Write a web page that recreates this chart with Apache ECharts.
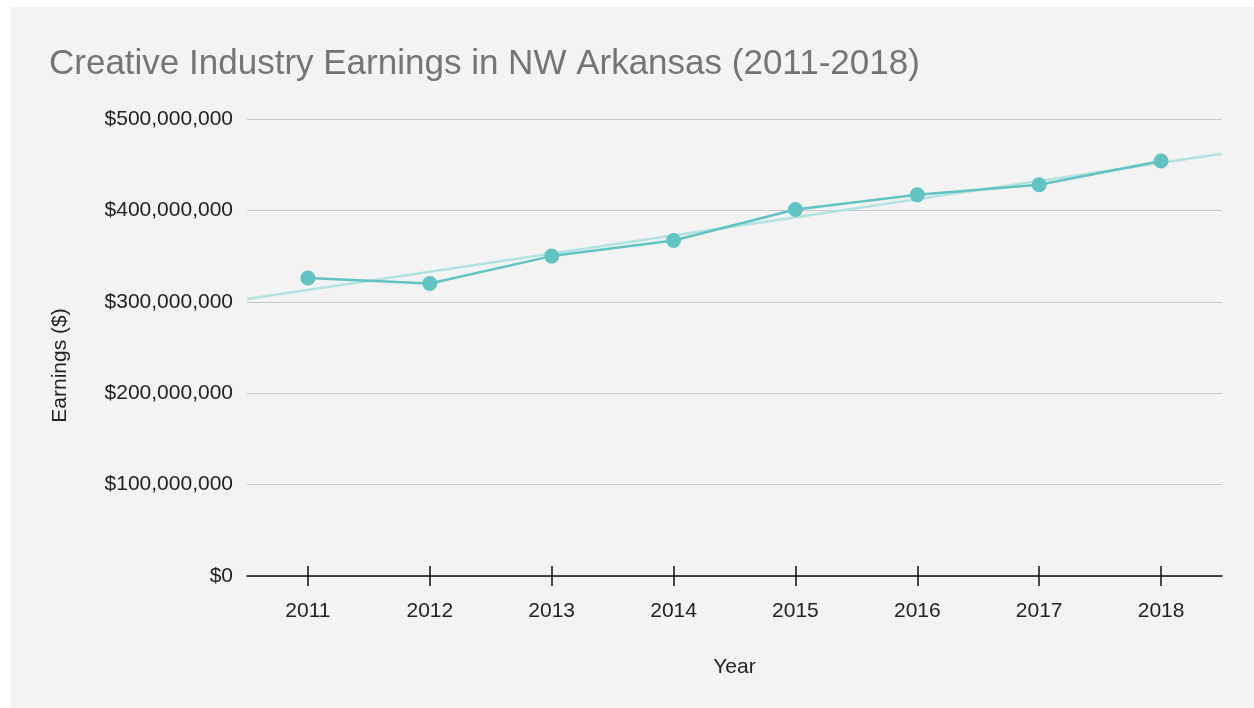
<!DOCTYPE html>
<html>
<head>
<meta charset="utf-8">
<script src="https://cdn.jsdelivr.net/npm/echarts@6/dist/echarts.min.js"></script>
<style>
  html, body { margin: 0; padding: 0; background: #fff; }
  #chart { width: 1254px; height: 708px; }
</style>
</head>
<body>
<div id="chart"></div>
<script>
const years = ['2011', '2012', '2013', '2014', '2015', '2016', '2017', '2018'];
const earnings = [326e6, 320e6, 350e6, 367e6, 401e6, 417e6, 428e6, 454e6];
// trendline ends, read at the plot edges
const trendX = [2010.5, 2018.5];
const trendY = [303e6, 462e6];
const yTicks = [0, 100e6, 200e6, 300e6, 400e6, 500e6];

const font = 'Liberation Sans, Arial, sans-serif';

let chart = echarts.init(document.getElementById('chart'));

function money(v) {
    return '$' + Math.round(v).toString().replace(/\B(?=(\d{3})+(?!\d))/g, ',');
}

let option = {
    backgroundColor: '#fff',
    graphic: [{
        type: 'rect',
        left: 11, top: 7, z: -10,
        shape: { width: 1243, height: 701 },
        style: { fill: '#f3f3f3' }
    }],
    title: {
        text: 'Creative Industry Earnings in NW Arkansas (2011-2018)',
        left: 44, top: 42,
        textStyle: { fontFamily: font, fontSize: 35, fontWeight: 'normal', color: '#757575' }
    },
    grid: { left: 247, right: 32, top: 119, bottom: 132 },
    xAxis: [
        {
            type: 'category',
            data: years,
            boundaryGap: true,
            name: 'Year',
            nameLocation: 'middle',
            nameGap: 81,
            nameTextStyle: { fontFamily: font, fontSize: 21, color: '#222' },
            axisLine: { show: true, lineStyle: { color: '#111', width: 1.5 } },
            axisTick: { show: true, alignWithLabel: true, length: 10, lineStyle: { color: '#111', width: 1.5 } },
            axisLabel: { fontFamily: font, fontSize: 21, color: '#222', margin: 25 }
        },
        {
            type: 'category',
            data: years,
            boundaryGap: true,
            position: 'bottom',
            axisLine: { show: false },
            axisTick: { show: true, inside: true, alignWithLabel: true, length: 10, lineStyle: { color: '#111', width: 1.5 } },
            axisLabel: { show: false }
        },
        {
            type: 'value',
            min: trendX[0], max: trendX[1],
            show: false
        }
    ],
    yAxis: {
        type: 'value',
        min: 0, max: 500e6, interval: 100e6,
        name: 'Earnings ($)',
        nameLocation: 'middle',
        nameGap: 176,
        nameTextStyle: { fontFamily: font, fontSize: 21, color: '#222', padding: [0, 36, 0, 0] },
        axisLine: { show: false },
        axisTick: { show: false },
        axisLabel: {
            fontFamily: font, fontSize: 21, color: '#222', margin: 14,
            padding: [4, 0, 0, 0],
            formatter: v => yTicks.includes(v) ? money(v) : ''
        },
        splitLine: { lineStyle: { color: '#c8c8c8', width: 1.2 } }
    },
    series: [
        {
            name: 'Trend',
            type: 'line',
            xAxisIndex: 2,
            data: trendX.map((x, i) => [x, trendY[i]]),
            showSymbol: false,
            lineStyle: { color: '#b3e2e0', width: 2.5 },
            z: 1
        },
        {
            name: 'Earnings',
            type: 'line',
            data: earnings,
            symbol: 'circle',
            symbolSize: 15,
            itemStyle: { color: '#62c3c3' },
            lineStyle: { color: '#62c3c3', width: 2.5 },
            z: 2
        }
    ]
};

option && chart.setOption(option);
</script>
</body>
</html>
